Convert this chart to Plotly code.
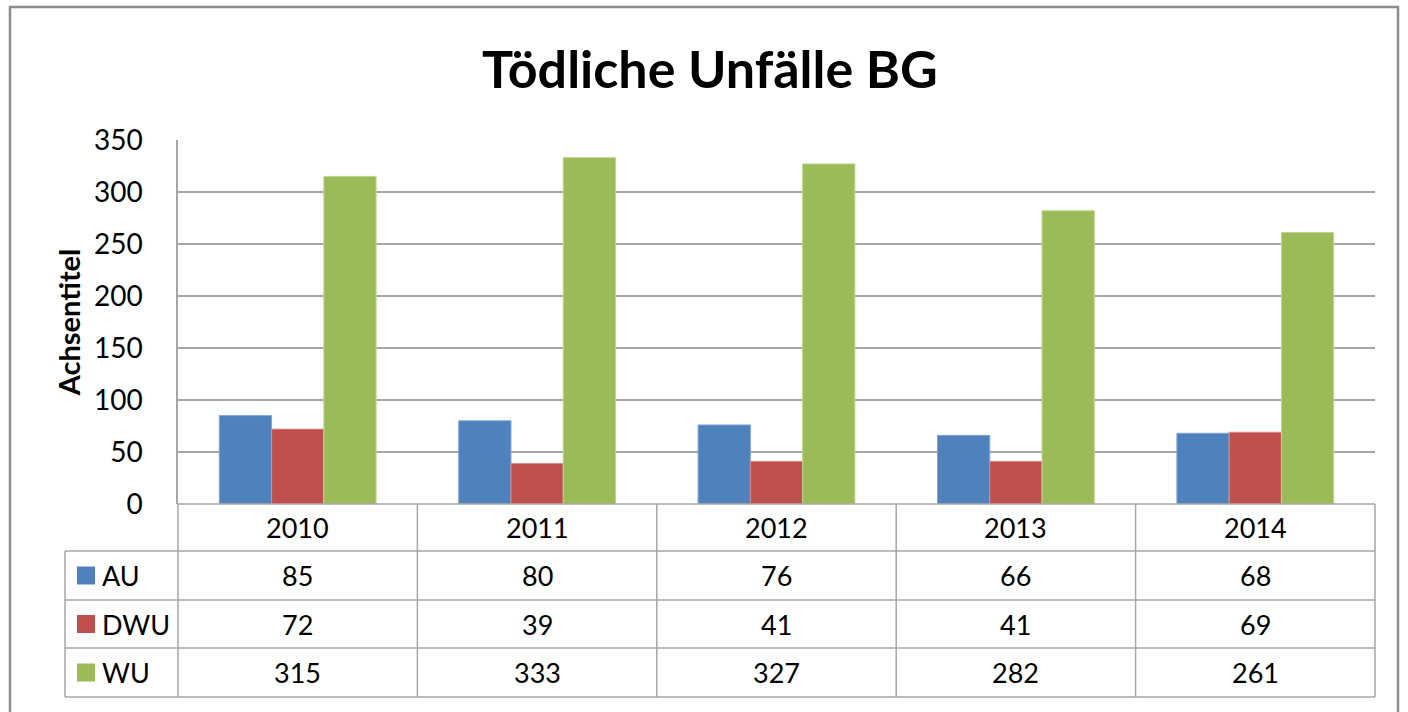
import plotly.graph_objects as go

years = ["2010", "2011", "2012", "2013", "2014"]
series_names = ["AU", "DWU", "WU"]
au = [85, 80, 76, 66, 68]
dwu = [72, 39, 41, 41, 69]
wu = [315, 333, 327, 282, 261]
colors = ["#4F81BD", "#C0504D", "#9BBB59"]
edge_colors = ["#7FA4D6", "#D98A88", "#BCD88E"]
y_ticks = [0, 50, 100, 150, 200, 250, 300, 350]

W, H = 1408, 712
L, R, T, B = 178, 1375, 140, 504
FONT = "Lato"
GRID = "#A6A6A6"

def px_x(px):
    return (px - L) / (R - L)

def px_y(py):
    return (B - py) / (B - T)

values = [au, dwu, wu]
fig = go.Figure()
for name, vals, c, ec in zip(series_names, values, colors, edge_colors):
    fig.add_trace(go.Bar(x=years, y=vals, name=name, marker=dict(color=c, line=dict(color=ec, width=1))))

fig.update_layout(
    width=W, height=H,
    margin=dict(l=L, r=W - R, t=T, b=H - B),
    paper_bgcolor="white", plot_bgcolor="white",
    barmode="group", bargap=0.345, bargroupgap=0,
    showlegend=False,
    font=dict(family=FONT, color="#000000"),
    title=dict(text="<b>Tödliche Unfälle BG</b>", x=710 / W, xref="container", xanchor="center",
               y=1 - 70 / H, yref="container", yanchor="middle", font=dict(size=52, family=FONT)),
)
fig.update_xaxes(type="category", range=[-0.5, len(years) - 0.5], showticklabels=False,
                 showgrid=False, zeroline=False, showline=False)
fig.update_yaxes(range=[0, 350], tickvals=y_ticks, showgrid=True, gridcolor=GRID, gridwidth=1.5,
                 zeroline=False, showline=True, linecolor=GRID, linewidth=1.5,
                 ticks="", tickfont=dict(size=28, family=FONT), ticklabelstandoff=28,
                 title=dict(text="<b>Achsentitel</b>", font=dict(size=29, family=FONT), standoff=5))

shapes = []
line = dict(color=GRID, width=1.5)
# outer chart border
shapes.append(dict(type="rect", xref="paper", yref="paper", x0=px_x(10), x1=px_x(1398),
                   y0=px_y(730), y1=px_y(7), line=dict(color="#8C8C8C", width=2.5), layer="below"))
# table geometry
row_tops = [504, 551, 600, 648, 697]
table_left = 65
ncat = len(years)
col_edges = [L + i * (R - L) / ncat for i in range(ncat + 1)]
for yy in row_tops[1:]:
    shapes.append(dict(type="line", xref="paper", yref="paper", x0=px_x(table_left), x1=px_x(R),
                       y0=px_y(yy), y1=px_y(yy), line=line))
shapes.append(dict(type="line", xref="paper", yref="paper", x0=px_x(L), x1=px_x(R),
                   y0=px_y(504), y1=px_y(504), line=line))
for xx in col_edges:
    shapes.append(dict(type="line", xref="paper", yref="paper", x0=px_x(xx), x1=px_x(xx),
                       y0=px_y(504), y1=px_y(697), line=line))
shapes.append(dict(type="line", xref="paper", yref="paper", x0=px_x(table_left), x1=px_x(table_left),
                   y0=px_y(551), y1=px_y(697), line=line))

annotations = []
for j, yr in enumerate(years):
    annotations.append(dict(x=j, xref="x", y=px_y(527.5), yref="paper", text=yr, showarrow=False,
                            font=dict(size=27, family=FONT), xanchor="center", yanchor="middle"))
for i, (name, vals, c) in enumerate(zip(series_names, values, colors)):
    yc = (row_tops[i + 1] + row_tops[i + 2]) / 2
    shapes.append(dict(type="rect", xref="paper", yref="paper", x0=px_x(77), x1=px_x(95),
                       y0=px_y(yc + 9), y1=px_y(yc - 9), fillcolor=c, line=dict(width=0)))
    annotations.append(dict(x=px_x(100), xref="paper", y=px_y(yc), yref="paper", text=name,
                            showarrow=False, xanchor="left", yanchor="middle",
                            font=dict(size=27, family=FONT)))
    for j, v in enumerate(vals):
        annotations.append(dict(x=j, xref="x", y=px_y(yc), yref="paper", text=str(v),
                                showarrow=False, xanchor="center", yanchor="middle",
                                font=dict(size=27, family=FONT)))

fig.update_layout(shapes=shapes, annotations=annotations)
fig.write_html("out.html", config={"displayModeBar": False},
               post_script="document.body.style.margin='0px';")
